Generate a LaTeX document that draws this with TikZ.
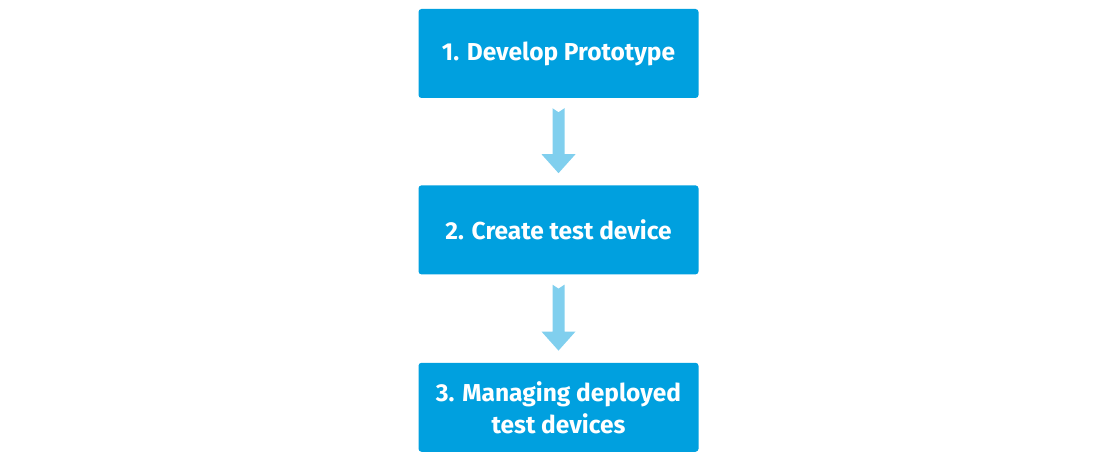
\documentclass[tikz,border=0pt]{standalone}
\usepackage{fontspec}
\setsansfont{Fira Sans}
\usepackage{tikz}
\usetikzlibrary{positioning,calc}

\definecolor{boxblue}{RGB}{0,160,223}
\definecolor{arrowblue}{RGB}{128,207,238}

\begin{document}
\begin{tikzpicture}[x=1pt,y=1pt,
  stepbox/.style={rectangle, rounded corners=3pt, fill=boxblue, text=white,
    minimum width=280pt, minimum height=89pt, inner sep=0pt, align=center,
    font=\sffamily\bfseries\fontsize{24.5}{32}\selectfont}]

\useasboundingbox (0,0) rectangle (1117,460);

\node[stepbox] (1) at (558.5,406.5) {1. Develop Prototype};
\node[stepbox, below=87pt of 1] (2) {2. Create test device};
\node[stepbox, below=88pt of 2] (3) {3. Managing deployed\\test devices};

\foreach \i in {1,2} {
    \pgfmathtruncatemacro{\next}{\i+1}
    \fill[arrowblue] ($(\i.south)+(-6,-10)$) -- ($(\i.south)+(0,-14)$) -- ($(\i.south)+(6,-10)$)
        -- ($(\next.north)+(6,31)$) -- ($(\next.north)+(17,31)$) -- ($(\next.north)+(0,12)$)
        -- ($(\next.north)+(-17,31)$) -- ($(\next.north)+(-6,31)$) -- cycle;
}
\end{tikzpicture}
\end{document}
